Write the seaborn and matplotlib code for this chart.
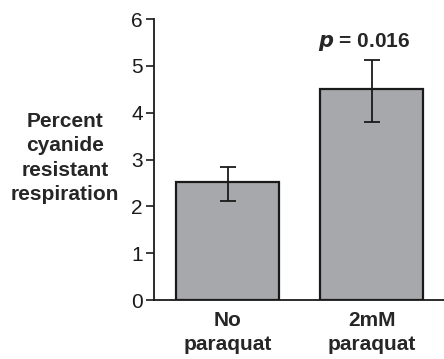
import matplotlib
matplotlib.use("Agg")
import numpy as np
import pandas as pd
import seaborn as sns
from matplotlib import pyplot as plt

# 値は図から読み取り
groups = ["No\nparaquat", "2mM\nparaquat"]
means = [2.52, 4.51]
err_low = [2.12, 3.80]
err_high = [2.85, 5.13]
y_ticks = [0, 1, 2, 3, 4, 5, 6]
p_label = r"$\boldsymbol{p}$ = 0.016"

sns.set_style("ticks")
plt.rcParams["font.family"] = ["Liberation Sans", "DejaVu Sans"]
plt.rcParams["mathtext.fontset"] = "custom"
plt.rcParams["mathtext.bf"] = "Liberation Sans:bold:italic"

df = pd.DataFrame({"group": groups, "value": means})

fig = plt.figure(figsize=(4.44, 3.59), dpi=100)
ax = fig.add_axes([0.347, 0.164, 0.653, 0.783])

sns.barplot(data=df, x="group", y="value", color="#a7a8ab", saturation=1,
            width=0.715, edgecolor="#1a1a1a", linewidth=1.6, errorbar=None, ax=ax)

m = np.array(means)
yerr = np.vstack([m - np.array(err_low), np.array(err_high) - m])
ax.errorbar(range(len(groups)), m, yerr=yerr, fmt="none", ecolor="#1a1a1a",
            elinewidth=1.3, capsize=5.5, capthick=1.3)

ax.set_xlim(-0.51, 1.5)
ax.set_ylim(0, 6)
ax.set_yticks(y_ticks)
ax.set_yticklabels([str(t) for t in y_ticks], fontsize=15)
ax.tick_params(axis="y", length=6, width=1.2, pad=2, colors="#1a1a1a")
ax.tick_params(axis="x", length=0, pad=7.5)
for lab in ax.get_xticklabels():
    lab.set_fontsize(15)
    lab.set_fontweight("bold")
    lab.set_linespacing(1.35)
ax.set_xlabel("")
ax.set_ylabel("")
sns.despine(ax=ax)
ax.spines["left"].set_linewidth(1.3)
ax.spines["bottom"].set_linewidth(1.3)
ax.spines["left"].set_color("#1a1a1a")
ax.spines["bottom"].set_color("#1a1a1a")

ax.text(0.95, 5.52, p_label, ha="center", va="center", fontsize=15, fontweight="bold")

fig.text(65 / 444, 1 - 158 / 359, "Percent\ncyanide\nresistant\nrespiration",
         ha="center", va="center", fontsize=15, fontweight="bold", linespacing=1.35)

fig.savefig("out.png", dpi=100)
